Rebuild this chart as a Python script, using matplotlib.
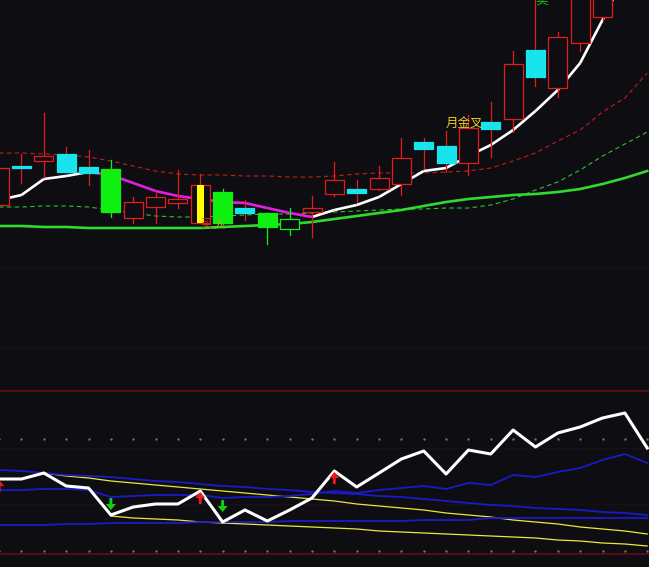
import numpy as np
import matplotlib.pyplot as plt
from matplotlib.patches import Rectangle
from matplotlib.collections import LineCollection

plt.rcParams['font.family'] = ['Noto Sans CJK SC', 'DejaVu Sans']

# ---- price panel (arbitrary price units) ----
opens  = [5.5, 9.4, 9.9, 10.6, 9.3, 9.1, 4.2, 5.3, 5.7, 3.7, 6.8, 5.2, 4.7, 3.1, 4.8,
          6.6, 7.1, 7.1, 7.6, 11.8, 11.4, 9.7, 13.8, 14.1, 21.0, 17.2, 21.7, 24.3, 30.5, 33.0]
highs  = [9.2, 10.6, 14.7, 11.3, 11.0, 10.0, 6.3, 6.7, 9.0, 8.6, 7.1, 6.0, 4.7, 5.2, 6.4,
          9.8, 8.0, 9.4, 12.2, 12.2, 12.9, 14.5, 15.8, 20.9, 27.0, 22.8, 30.0, 33.0, 35.0, 37.0]
lows   = [5.5, 7.7, 8.3, 8.8, 7.5, 4.3, 3.7, 3.7, 5.2, 3.7, 3.6, 4.0, 1.6, 2.5, 2.3,
          6.4, 5.8, 7.0, 6.5, 9.2, 8.8, 8.5, 10.3, 12.8, 17.4, 16.3, 20.9, 24.0, 27.5, 29.0]
closes = [9.2, 9.2, 10.4, 8.8, 8.7, 4.8, 5.8, 6.3, 6.1, 7.5, 3.7, 4.7, 3.3, 4.1, 5.2,
          8.0, 6.7, 8.2, 10.2, 11.1, 9.7, 13.2, 13.1, 19.6, 18.3, 22.3, 29.0, 32.0, 34.0, 36.0]
ma_short = [6.0, 6.5, 8.1, 8.4, 8.8, 8.5, 7.7, 6.9, 6.4, 6.1, 5.8, 5.7, 5.2, 4.7, 4.3,
            5.0, 5.5, 6.3, 7.6, 8.9, 9.2, 10.4, 11.5, 13.0, 14.9, 17.0, 19.7, 24.0, 28.5, 33.0]
upper_band = [10.7, 10.7, 10.6, 10.5, 10.3, 9.9, 9.4, 8.9, 8.6, 8.5, 8.5, 8.4, 8.4, 8.3, 8.3,
              8.4, 8.6, 8.7, 8.7, 8.7, 8.8, 8.9, 9.2, 9.9, 10.7, 11.9, 13.0, 14.8, 16.2, 18.7]
lower_band = [5.3, 5.3, 5.4, 5.4, 5.3, 5.0, 4.7, 4.4, 4.3, 4.3, 4.4, 4.5, 4.6, 4.6, 4.7,
              4.8, 4.9, 5.0, 5.1, 5.1, 5.2, 5.2, 5.5, 6.1, 7.0, 7.8, 9.0, 10.4, 11.6, 12.8]
ma_long = [3.4, 3.4, 3.3, 3.3, 3.2, 3.2, 3.2, 3.2, 3.2, 3.2, 3.3, 3.4, 3.5, 3.6, 3.8,
           4.1, 4.4, 4.7, 5.0, 5.4, 5.8, 6.1, 6.3, 6.5, 6.6, 6.8, 7.1, 7.6, 8.2, 8.9]
green_fill_days = [5, 10, 12]
green_hollow_days = [13]
yellow_bar_days = [9]

# ---- indicator panel ----
osc = [75, 75, 81, 68, 66, 39, 47, 50, 50, 63, 32, 44, 33, 44, 56,
       83, 67, 81, 95, 103, 80, 104, 100, 124, 107, 121, 127, 136, 141, 106]
osc_ma = [64, 64, 65, 65, 64, 57, 58, 59, 59, 59, 56, 57, 57, 58, 60,
          63, 61, 64, 66, 68, 65, 71, 69, 79, 77, 82, 86, 94, 100, 91]
blue_upper = [84, 83, 81, 79, 78, 77, 75, 73, 72, 70, 68, 67, 65, 64, 62,
              61, 60, 58, 57, 55, 53, 51, 49, 48, 46, 45, 44, 42, 41, 39]
blue_lower = [29, 29, 29, 30, 30, 31, 31, 31, 31, 32, 32, 32, 32, 33, 33,
              33, 33, 33, 33, 34, 34, 34, 36, 36, 36, 36, 36, 36, 36, 36]
nan = np.nan
yellow_upper = [nan, nan, 81, 78, 76, 73, 71, 69, 67, 65, 63, 61, 59, 57, 55,
                53, 50, 48, 46, 44, 41, 39, 37, 34, 32, 30, 27, 25, 23, 20]
yellow_lower = [nan, nan, nan, nan, nan, 38, 36, 35, 34, 32, 31, 30, 29, 28, 27,
                26, 25, 23, 22, 21, 20, 19, 18, 17, 16, 14, 13, 11, 10, 8]
buy_days = [0, 9, 15]
buy_tips = [74, 62, 82]
sell_days = [5, 10]
sell_tips = [44, 42]

bg = '#0e0e12'
red = '#e01c1c'
cyan = '#18e4ec'
green = '#10f010'

fig = plt.figure(figsize=(6.49, 5.67), dpi=100, facecolor=bg)
ax = fig.add_axes([0, 187 / 567, 1, 380 / 567])
ax2 = fig.add_axes([0, 0, 1, 187 / 567])
for a in (ax, ax2):
    a.set_facecolor(bg)
    a.axis('off')
    a.set_xlim(0.038, 29.08)
ax.set_ylim(-12, 26)
ax2.set_ylim(-13, 174)

x = np.arange(len(opens))

# faint grid lines
for lv in (-0.8, -8.8):
    ax.axhline(lv, color='#190f14', lw=0.8, zorder=0)
for lv in (106, 50):
    ax2.axhline(lv, color='#190f14', lw=0.8, zorder=0)

# moving averages / bands
ax.plot(x, upper_band, color='#c01e1e', lw=0.8, ls=(0, (4, 3)), zorder=2)
ax.plot(x, lower_band, color='#30c030', lw=0.8, ls=(0, (4, 3)), zorder=2)
ax.plot(x, ma_long, color='#30d830', lw=1.9, zorder=2)
pts = np.column_stack([x, ma_short])
segs = np.stack([pts[:-1], pts[1:]], axis=1)
seg_colors = ['#e020e0' if ma_short[i + 1] < ma_short[i] else 'white' for i in range(len(x) - 1)]
ax.add_collection(LineCollection(segs, colors=seg_colors, linewidths=1.9, zorder=2))

# candles
w = 0.85
for i in x:
    o, h, l, c = opens[i], highs[i], lows[i], closes[i]
    if i in green_fill_days:
        edge, face, wick = green, green, green
    elif i in green_hollow_days:
        edge, face, wick = green, bg, green
    elif c >= o:
        edge, face, wick = red, bg, red
    else:
        edge, face, wick = cyan, cyan, red
    ax.plot([i, i], [l, h], color=wick, lw=0.9, zorder=3)
    ax.add_patch(Rectangle((i - w / 2, min(o, c)), w, abs(c - o),
                           facecolor=face, edgecolor=edge, lw=0.9, zorder=4))
    if i in yellow_bar_days:
        ax.add_patch(Rectangle((i - 0.15, min(o, c)), 0.3, abs(c - o),
                               facecolor='#ffff00', edgecolor='none', zorder=5))

ax.text(20.8, 13.55, '月金叉', color='#f0d020', fontsize=9, ha='center', va='center', zorder=6)
ax.text(24.25, 26.0, '卖', color='#20c020', fontsize=9, ha='center', va='center', zorder=6)
ax.text(9.25, 3.6, '买', color='#e03010', fontsize=8, ha='center', va='center', zorder=6)
ax.text(9.85, 3.6, '入', color='#d0a020', fontsize=8, ha='center', va='center', zorder=6)

# indicator panel
ax2.axhline(163, color='#6a0a18', lw=1.2, zorder=1)
ax2.axhline(0, color='#6a0a18', lw=1.2, zorder=1)
ax2.plot(x, [115] * len(x), ls='none', marker='s', ms=0.7, color='#707070', zorder=1)
ax2.plot(x, [3] * len(x), ls='none', marker='s', ms=0.7, color='#707070', zorder=1)
ax2.plot(x, yellow_upper, color='#e8e840', lw=0.9, zorder=2)
ax2.plot(x, yellow_lower, color='#e8e840', lw=0.9, zorder=2)
ax2.plot(x, blue_upper, color='#1a1ac8', lw=1.3, zorder=2)
ax2.plot(x, blue_lower, color='#1a1ac8', lw=1.3, zorder=2)
ax2.plot(x, osc_ma, color='#1a1ac8', lw=1.3, zorder=2)
ax2.plot(x, osc, color='white', lw=2.2, zorder=3)

for d, t in zip(buy_days, buy_tips):
    ax2.arrow(d, t - 12, 0, 12, width=0.13, head_width=0.45, head_length=6,
              length_includes_head=True, color='#f01818', lw=0, zorder=4)
for d, t in zip(sell_days, sell_tips):
    ax2.arrow(d, t + 12, 0, -12, width=0.13, head_width=0.45, head_length=6,
              length_includes_head=True, color='#10d010', lw=0, zorder=4)

fig.savefig('out.png', dpi=100, facecolor=bg)
